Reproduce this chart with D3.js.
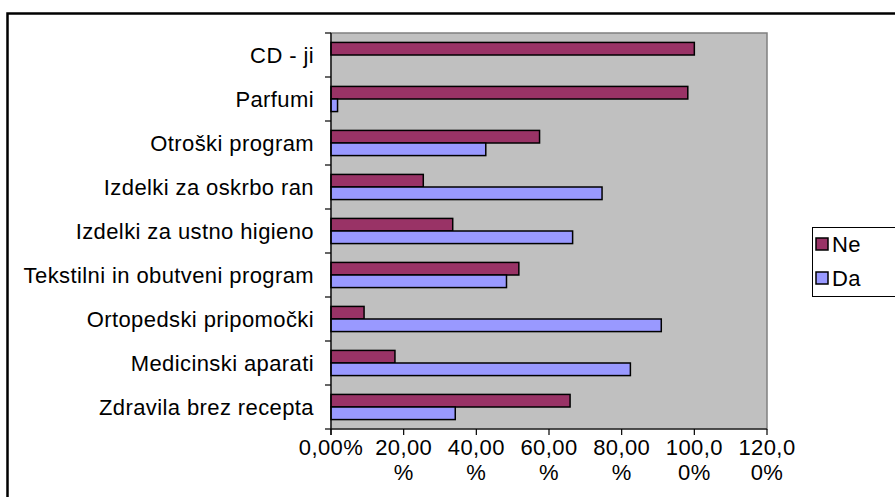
<!DOCTYPE html>
<html lang="sl">
<head>
  <meta charset="UTF-8">
  <title>Izdelki - Da / Ne</title>
  <script src="https://d3js.org/d3.v7.min.js"></script>
  <style>
    body {
      margin: 0;
      background: #fff;
      font-family: "Liberation Sans", Arial, sans-serif;
    }
    svg text {
      fill: #000;
      font-size: 22px;
      letter-spacing: 0.4px;
    }
  </style>
</head>
<body>
  <svg id="chart"></svg>

  <script>
    const width = 895, height = 497;

    // categories from top to bottom
    const categories = [
      "CD - ji",
      "Parfumi",
      "Otroški program",
      "Izdelki za oskrbo ran",
      "Izdelki za ustno higieno",
      "Tekstilni in obutveni program",
      "Ortopedski pripomočki",
      "Medicinski aparati",
      "Zdravila brez recepta"
    ];
    const seriesNames = ["Ne", "Da"];
    const neValues = [100, 98.2, 57.4, 25.4, 33.5, 51.7, 9.1, 17.6, 65.8];
    const daValues = [0, 1.8, 42.6, 74.6, 66.5, 48.3, 90.9, 82.4, 34.2];
    const xTicks = [0, 20, 40, 60, 80, 100, 120];
    const colors = { Ne: "#993366", Da: "#9999FF" };

    const plot = { left: 331, top: 33, right: 767, bottom: 429 };

    const svg = d3.select("#chart")
      .attr("width", width)
      .attr("height", height);

    // outer chart frame (runs off the right and bottom edge)
    svg.append("rect")
      .attr("x", 7.5).attr("y", 13.5)
      .attr("width", 900).attr("height", 500)
      .attr("fill", "none")
      .attr("stroke", "#000")
      .attr("stroke-width", 2.5);

    const x = d3.scaleLinear()
      .domain([0, 120])
      .range([plot.left, plot.right]);

    const y = d3.scaleBand()
      .domain(categories)
      .range([plot.top, plot.bottom])
      .paddingInner(0)
      .paddingOuter(0);

    // gap width 150% -> bar group is 2/3.5 of band
    const barH = y.bandwidth() / 3.5;
    const groupOff = (y.bandwidth() - 2 * barH) / 2;

    // plot area
    svg.append("rect")
      .attr("x", plot.left).attr("y", plot.top)
      .attr("width", plot.right - plot.left)
      .attr("height", plot.bottom - plot.top)
      .attr("fill", "#C0C0C0")
      .attr("stroke", "#808080")
      .attr("stroke-width", 1.5);

    const rows = categories.map((c, i) => ({ cat: c, Ne: neValues[i], Da: daValues[i] }));

    const g = svg.append("g");
    seriesNames.forEach((s, si) => {
      g.selectAll("rect.bar-" + s)
        .data(rows)
        .join("rect")
        .attr("class", "bar-" + s)
        .attr("x", x(0))
        .attr("y", d => y(d.cat) + groupOff + si * barH)
        .attr("width", d => x(d[s]) - x(0))
        .attr("height", barH)
        .attr("fill", colors[s])
        .attr("stroke", d => d[s] > 0 ? "#000" : "none")
        .attr("stroke-width", 1.5);
    });

    // y axis: line, ticks at band boundaries, labels
    svg.append("line")
      .attr("x1", plot.left).attr("x2", plot.left)
      .attr("y1", plot.top).attr("y2", plot.bottom + 6)
      .attr("stroke", "#000").attr("stroke-width", 1.2);

    const bounds = categories.map(c => y(c)).concat([plot.bottom]);
    svg.selectAll("line.ytick")
      .data(bounds)
      .join("line")
      .attr("class", "ytick")
      .attr("x1", plot.left - 6).attr("x2", plot.left)
      .attr("y1", d => d).attr("y2", d => d)
      .attr("stroke", "#000").attr("stroke-width", 1.2);

    svg.selectAll("text.ylabel")
      .data(categories)
      .join("text")
      .attr("class", "ylabel")
      .attr("x", plot.left - 17)
      .attr("y", d => y(d) + y.bandwidth() / 2)
      .attr("dy", "0.35em")
      .attr("text-anchor", "end")
      .text(d => d);

    // x axis
    svg.append("line")
      .attr("x1", plot.left).attr("x2", plot.right)
      .attr("y1", plot.bottom).attr("y2", plot.bottom)
      .attr("stroke", "#000").attr("stroke-width", 1.2);

    svg.selectAll("line.xtick")
      .data(xTicks)
      .join("line")
      .attr("class", "xtick")
      .attr("x1", d => x(d)).attr("x2", d => x(d))
      .attr("y1", plot.bottom).attr("y2", plot.bottom + 6)
      .attr("stroke", "#000").attr("stroke-width", 1.2);

    const fmt = d3.formatLocale({ decimal: ",", thousands: ".", grouping: [3], currency: ["", "€"] }).format(".2f");
    const tickLabel = v => {
      const s = fmt(v) + "%";
      return s.length > 5 ? [s.slice(0, 5), s.slice(5)] : [s];
    };

    const xl = svg.selectAll("text.xlabel")
      .data(xTicks)
      .join("text")
      .attr("class", "xlabel")
      .attr("x", d => x(d))
      .attr("y", plot.bottom + 26)
      .attr("text-anchor", "middle");
    xl.selectAll("tspan")
      .data(d => tickLabel(d).map(t => ({ t, v: d })))
      .join("tspan")
      .attr("x", d => x(d.v))
      .attr("dy", (d, i) => i === 0 ? 0 : "1.15em")
      .text(d => d.t);

    // legend
    const legend = svg.append("g");
    legend.append("rect")
      .attr("x", 812.5).attr("y", 227.5)
      .attr("width", 90).attr("height", 69)
      .attr("fill", "#fff")
      .attr("stroke", "#000")
      .attr("stroke-width", 1);

    const li = legend.selectAll("g.item")
      .data(seriesNames)
      .join("g")
      .attr("class", "item")
      .attr("transform", (d, i) => `translate(816, ${238 + i * 34})`);
    li.append("rect")
      .attr("width", 12).attr("height", 12)
      .attr("fill", d => colors[d])
      .attr("stroke", "#000")
      .attr("stroke-width", 1.5);
    li.append("text")
      .attr("x", 16).attr("y", 6)
      .attr("dy", "0.35em")
      .text(d => d);
  </script>
</body>
</html>
